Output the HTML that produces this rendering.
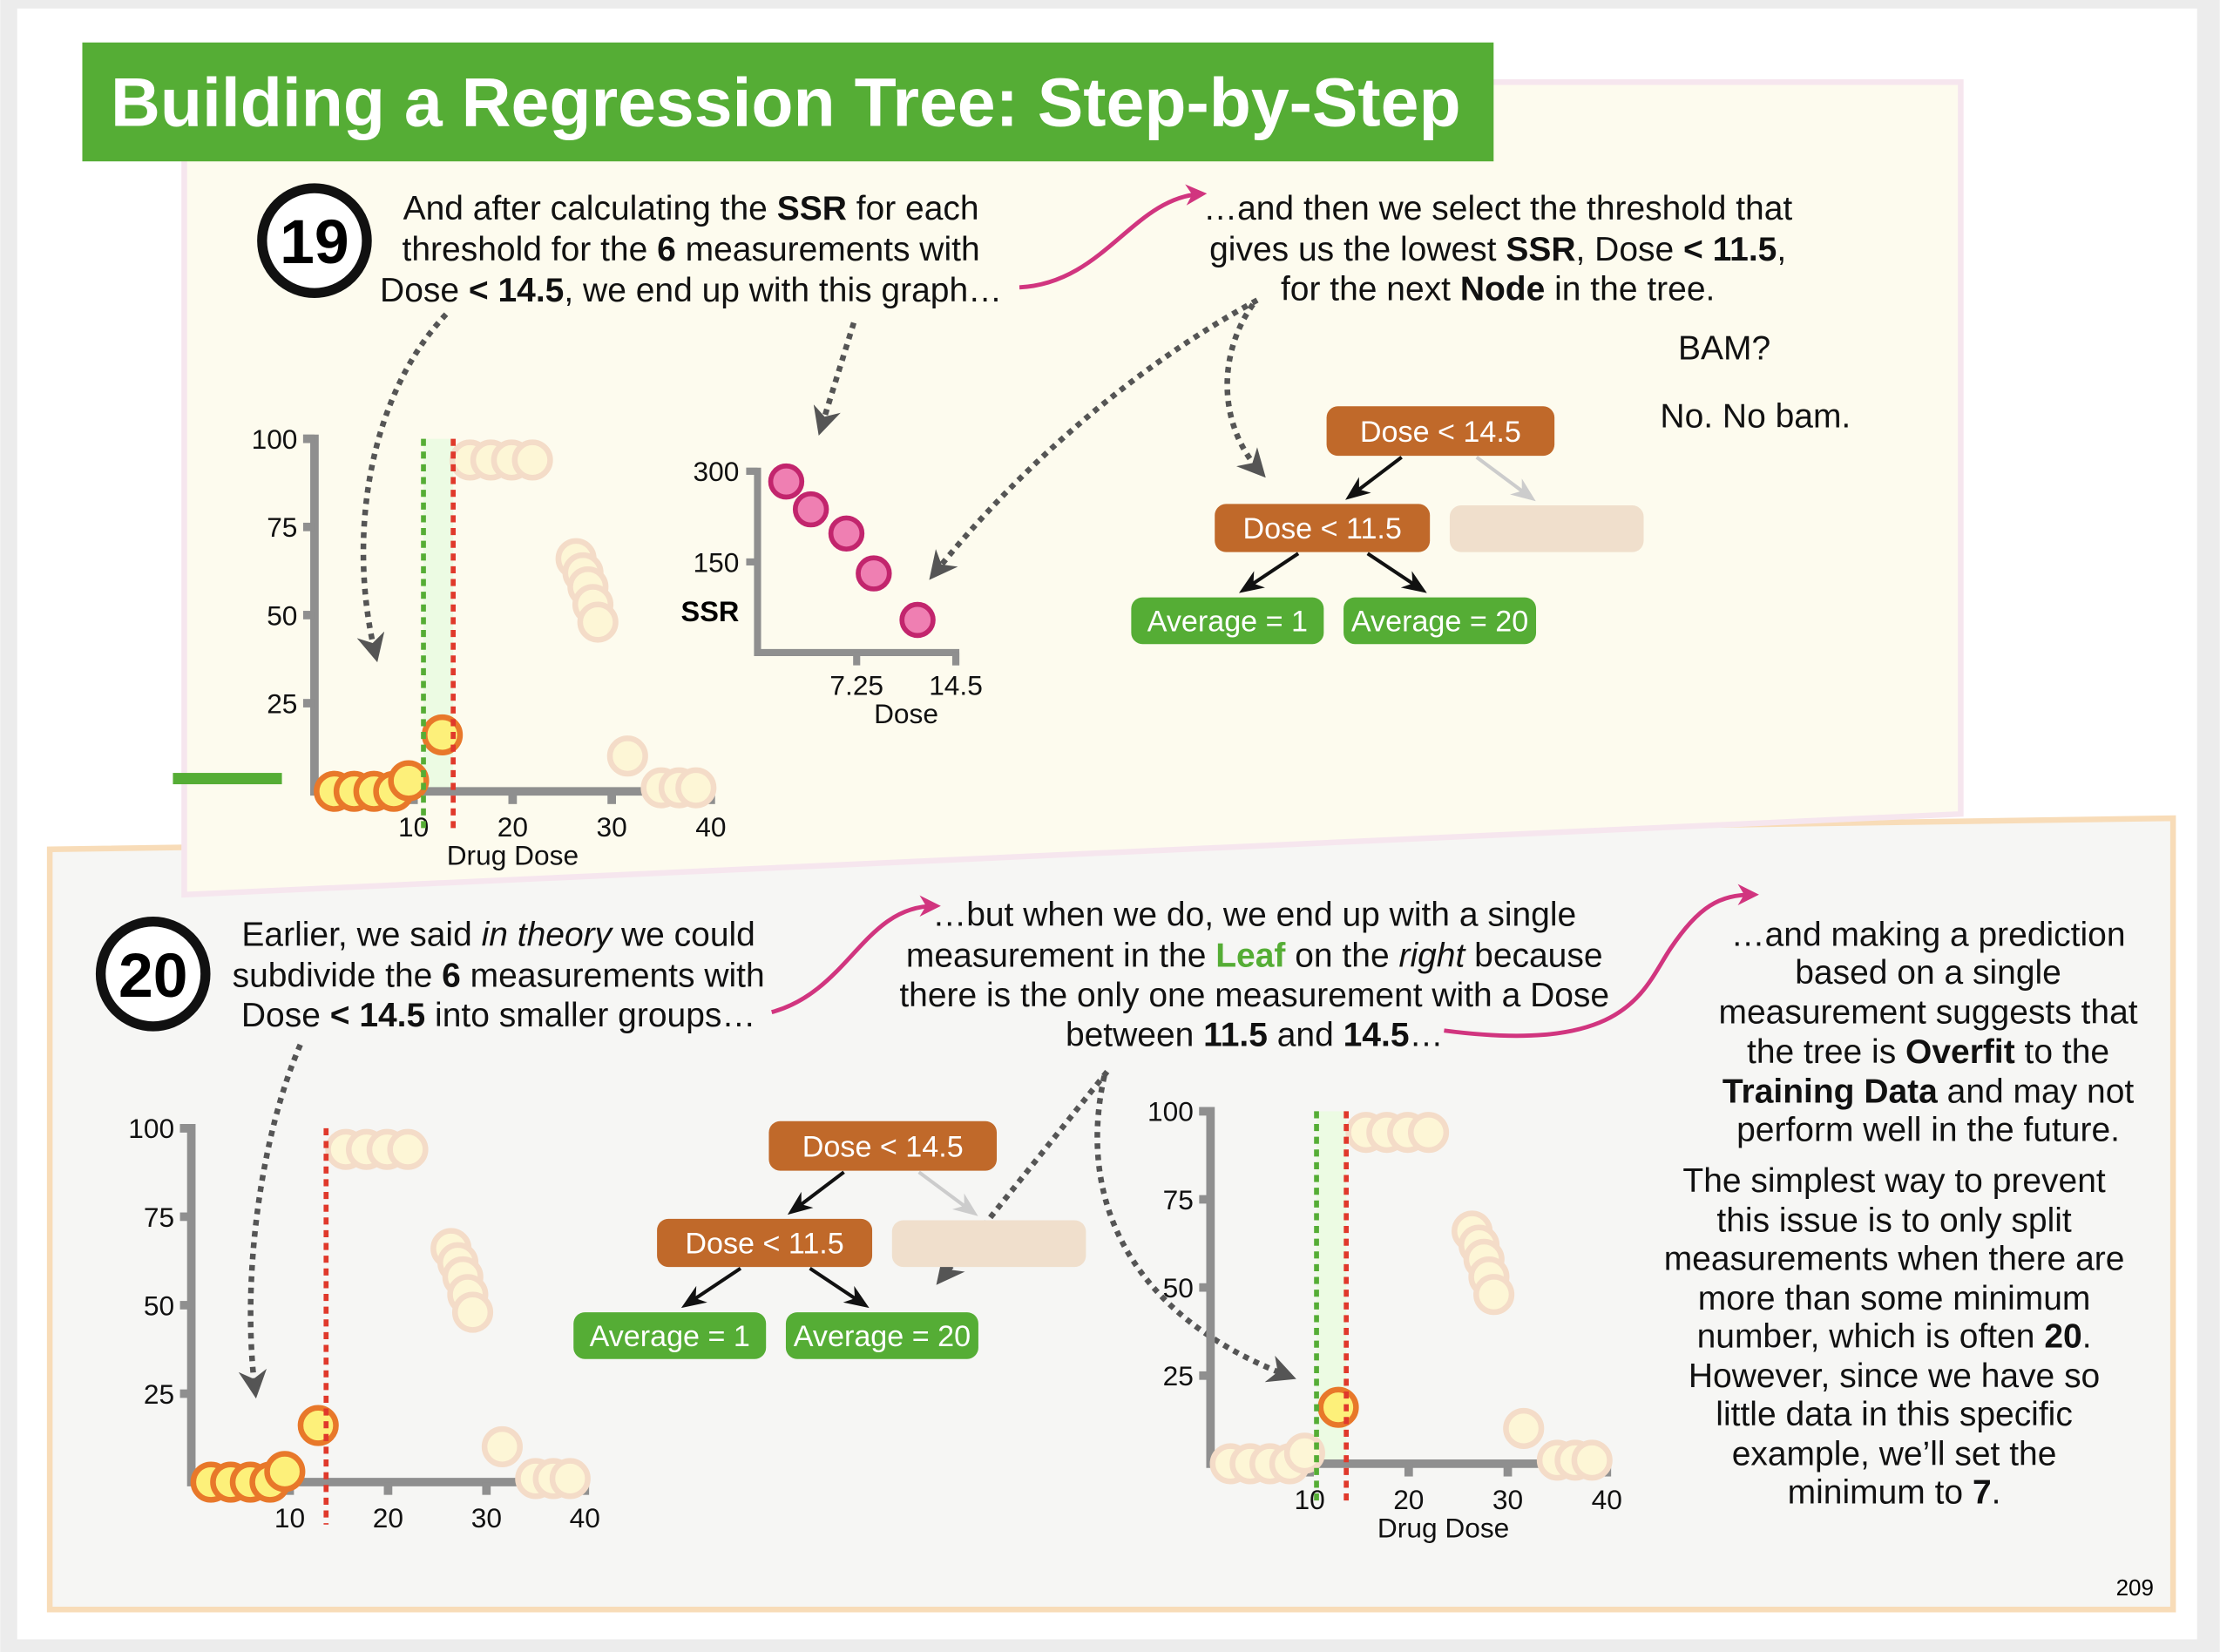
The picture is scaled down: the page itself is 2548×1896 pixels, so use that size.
<!DOCTYPE html>
<html><head><meta charset="utf-8">
<style>
html,body{margin:0;padding:0;background:#fff;}
svg{display:block;font-family:"Liberation Sans",sans-serif;}
.t{font-size:24px;fill:#111;text-anchor:middle}
.ax{font-size:19.5px;fill:#111}
.node{font-size:21px;fill:#fff;text-anchor:middle}
</style></head>
<body>
<svg id="root" width="2548" height="1896" viewBox="0 0 1568 1167">
<defs>
<marker id="ga" viewBox="0 0 10 10" refX="7" refY="5" markerWidth="5" markerHeight="5" orient="auto"><path d="M0,0 L10,5 L0,10 L3,5 z" fill="#555"/></marker>
<marker id="pa" viewBox="0 0 10 10" refX="7" refY="5" markerWidth="5" markerHeight="5" orient="auto"><path d="M0,0 L10,5 L0,10 L3,5 z" fill="#d1357f"/></marker>
<marker id="ka" viewBox="0 0 10 10" refX="8" refY="5" markerWidth="7" markerHeight="7" orient="auto"><path d="M0,1 L10,5 L0,9 L3,5 z" fill="#111"/></marker>
<marker id="la" viewBox="0 0 10 10" refX="8" refY="5" markerWidth="7" markerHeight="7" orient="auto"><path d="M0,1 L10,5 L0,9 L3,5 z" fill="#ccc"/></marker>
</defs>
<rect x="0" y="0" width="1568" height="1167" fill="#ececec"/>
<rect x="12" y="6" width="1540" height="1152" fill="#ffffff"/>
<polygon points="35,600 1535,578 1535,1137 35,1137" fill="#f6f6f4" stroke="#f8dcb8" stroke-width="4"/>
<polygon points="130,58 1385,58 1385,575 130,632" fill="#fdfbee" stroke="#f6e6ee" stroke-width="4"/>
<rect x="58" y="30" width="997" height="84" fill="#55ad35"/>
<text x="78" y="89" font-size="48.5" font-weight="bold" fill="#fff">Building a Regression Tree: Step-by-Step</text>

<circle cx="222" cy="170" r="37" fill="#fff" stroke="#111" stroke-width="7"/>
<text x="222" y="186" font-size="44" font-weight="bold" text-anchor="middle">19</text>
<circle cx="108" cy="688" r="37" fill="#fff" stroke="#111" stroke-width="7"/>
<text x="108" y="704" font-size="44" font-weight="bold" text-anchor="middle">20</text>

<g>
<text class="t" x="488" y="155">And after calculating the <tspan font-weight="bold">SSR</tspan> for each</text>
<text class="t" x="488" y="184">threshold for the <tspan font-weight="bold">6</tspan> measurements with</text>
<text class="t" x="488" y="213">Dose <tspan font-weight="bold">&lt; 14.5</tspan>, we end up with this graph…</text>
</g>
<g>
<text class="t" x="1058" y="155">…and then we select the threshold that</text>
<text class="t" x="1058" y="184">gives us the lowest <tspan font-weight="bold">SSR</tspan>, Dose <tspan font-weight="bold">&lt; 11.5</tspan>,</text>
<text class="t" x="1058" y="212">for the next <tspan font-weight="bold">Node</tspan> in the tree.</text>
</g>
<text class="t" x="1218" y="254">BAM?</text>
<text class="t" x="1240" y="302">No. No bam.</text>

<g>
<text class="t" x="352" y="668">Earlier, we said <tspan font-style="italic">in theory</tspan> we could</text>
<text class="t" x="352" y="697">subdivide the <tspan font-weight="bold">6</tspan> measurements with</text>
<text class="t" x="352" y="725">Dose <tspan font-weight="bold">&lt; 14.5</tspan> into smaller groups…</text>
</g>
<g>
<text class="t" x="886" y="654">…but when we do, we end up with a single</text>
<text class="t" x="886" y="683">measurement in the <tspan font-weight="bold" fill="#55ad35">Leaf</tspan> on the <tspan font-style="italic">right</tspan> because</text>
<text class="t" x="886" y="711">there is the only one measurement with a Dose</text>
<text class="t" x="886" y="739">between <tspan font-weight="bold">11.5</tspan> and <tspan font-weight="bold">14.5</tspan>…</text>
</g>
<g>
<text class="t" x="1362" y="668">…and making a prediction</text>
<text class="t" x="1362" y="695">based on a single</text>
<text class="t" x="1362" y="723">measurement suggests that</text>
<text class="t" x="1362" y="751">the tree is <tspan font-weight="bold">Overfit</tspan> to the</text>
<text class="t" x="1362" y="779"><tspan font-weight="bold">Training Data</tspan> and may not</text>
<text class="t" x="1362" y="806">perform well in the future.</text>
</g>
<g>
<text class="t" x="1338" y="842">The simplest way to prevent</text>
<text class="t" x="1338" y="870">this issue is to only split</text>
<text class="t" x="1338" y="897">measurements when there are</text>
<text class="t" x="1338" y="925">more than some minimum</text>
<text class="t" x="1338" y="952">number, which is often <tspan font-weight="bold">20</tspan>.</text>
<text class="t" x="1338" y="980">However, since we have so</text>
<text class="t" x="1338" y="1007">little data in this specific</text>
<text class="t" x="1338" y="1035">example, we’ll set the</text>
<text class="t" x="1338" y="1062">minimum to <tspan font-weight="bold">7</tspan>.</text>
</g>
<text x="1508" y="1127" font-size="16" text-anchor="middle">209</text>

<g fill="none" stroke-width="3">
<path d="M720,203 C780,200 800,140 848,137" stroke="#d1357f" marker-end="url(#pa)"/>
<path d="M545,715 C600,700 610,640 660,640" stroke="#d1357f" marker-end="url(#pa)"/>
<path d="M1020,728 C1150,745 1160,700 1180,670 C1200,640 1215,632 1238,632" stroke="#d1357f" marker-end="url(#pa)"/>
</g>
<g fill="none" stroke="#555" stroke-width="4" stroke-dasharray="4,4">
<path d="M315,222 C260,280 245,380 265,462" marker-end="url(#ga)"/>
<path d="M603,228 L580,302" marker-end="url(#ga)"/>
<path d="M888,212 C800,260 720,330 660,405" marker-end="url(#ga)"/>
<path d="M885,215 C860,250 860,300 890,333" marker-end="url(#ga)"/>
<path d="M212,738 C185,800 170,900 180,982" marker-end="url(#ga)"/>
<path d="M782,757 L665,903" marker-end="url(#ga)"/>
<path d="M780,760 C760,850 800,930 910,972" marker-end="url(#ga)"/>
</g>

<g id="plots"></g>
<g id="trees"></g>
</svg>
<script>
var doses=[2,4,6,8,9.5,12.9,15.7,17.8,19.9,22,26.4,27.1,27.6,28.1,28.6,31.6,35,36.8,38.5];
var effects=[0,0,0,0,3,16,94,94,94,94,66,62,58,53,48,10,1,1,1];
var xTicks=[10,20,30,40];
var yTicks=[25,50,75,100];
var ssrThresholds=[2.1,3.9,6.5,8.5,11.7];
var ssrValues=[283,237,197,131,54];
var ssrYTicks=[150,300];
var ssrXTicks=[7.25,14.5];
var NS='http://www.w3.org/2000/svg';
function mk(tag,attrs,parent){var e=document.createElementNS(NS,tag);for(var k in attrs)e.setAttribute(k,attrs[k]);parent.appendChild(e);return e;}
var plots=document.getElementById('plots');

function scatter(o){
  var g=mk('g',{},plots);
  
  
  function X(v){return o.x0+o.sx*v;}
  function Y(v){return o.y0-o.sy*v;}
  if(o.band){var b=mk('rect',{x:X(o.band[0]),y:Y(100),width:X(o.band[1])-X(o.band[0]),height:Y(0)-Y(100),fill:'#ecfbe3'},g);
    
    }
  var ax=mk('path',{d:'M'+(o.x0-8)+','+Y(100)+' H'+o.x0+' V'+Y(0)+' H'+X(40),fill:'none',stroke:'#8f8f8f','stroke-width':6},g);
  
  
  yTicks.forEach(function(t){
    mk('line',{x1:o.x0-8,x2:o.x0,y1:Y(t),y2:Y(t),stroke:'#8f8f8f','stroke-width':6},g);
    var tx=mk('text',{x:o.x0-12,y:Y(t)+7,'text-anchor':'end','class':'ax'},g);tx.textContent=t;
    
    
  });
  xTicks.forEach(function(t){
    mk('line',{x1:X(t),x2:X(t),y1:Y(0),y2:Y(0)+9,stroke:'#8f8f8f','stroke-width':6},g);
    var tx=mk('text',{x:X(t),y:Y(0)+32,'text-anchor':'middle','class':'ax'},g);tx.textContent=t;
    
    
  });
  if(o.xlabel){var xl=mk('text',{x:X(o.xlabel),y:Y(0)+52,'text-anchor':'middle','class':'ax'},g);xl.textContent='Drug Dose';
    
    }
  var faded=[],hi=[];
  doses.forEach(function(d,i){(o.hi(d)?hi:faded).push(i);});
  faded.concat(hi).forEach(function(i){
    var h=o.hi(doses[i]);
    var c=mk('circle',{cx:X(doses[i]),cy:Y(effects[i]),r:12.5,fill:h?'#fdf07a':'#fdf6d6',stroke:h?'#e8782a':'#f4dcc8','stroke-width':4},g);
    
    
  });
  if(o.green!==undefined){var gl=mk('line',{x1:X(o.green),x2:X(o.green),y1:Y(100),y2:Y(0)+30,stroke:'#55ad35','stroke-width':3.5,'stroke-dasharray':'5,4'},g);
    
    }
  var rl=mk('line',{x1:X(o.red),x2:X(o.red),y1:Y(100),y2:Y(0)+30,stroke:'#e0392b','stroke-width':3.5,'stroke-dasharray':'5,4'},g);
  
  
}
scatter({name:'plot-step19',x0:222,sx:7,y0:559,sy:2.49,band:[11,14],green:11,red:14,xlabel:20,hi:function(d){return d<14.5;}});
scatter({name:'plot-step20-left',x0:135,sx:6.95,y0:1047,sy:2.5,red:13.7,xlabel:0,hi:function(d){return d<14.5;}});
scatter({name:'plot-step20-right',x0:855,sx:7,y0:1034,sy:2.49,band:[10.7,13.7],green:10.7,red:13.7,xlabel:23.5,hi:function(d){return d>11.5&&d<14.5;}});
var gm=mk('rect',{x:122,y:546,width:77,height:8,fill:'#55ad35'},plots);



(function(){
  var g=mk('g',{},plots);
  
  
  function X(v){return 535+9.66*v;}
  function Y(v){return 461-0.427*v;}
  mk('path',{d:'M527,'+Y(300)+' H535 V'+Y(0)+' H'+X(14.5)+' V'+(Y(0)+9),fill:'none',stroke:'#8f8f8f','stroke-width':5},g);
  ssrYTicks.forEach(function(t){
    mk('line',{x1:527,x2:535,y1:Y(t),y2:Y(t),stroke:'#8f8f8f','stroke-width':5},g);
    var tx=mk('text',{x:522,y:Y(t)+7,'text-anchor':'end','class':'ax'},g);tx.textContent=t;
    
    
  });
  ssrXTicks.forEach(function(t){
    mk('line',{x1:X(t),x2:X(t),y1:Y(0),y2:Y(0)+9,stroke:'#8f8f8f','stroke-width':5},g);
    var tx=mk('text',{x:X(t),y:Y(0)+30,'text-anchor':'middle','class':'ax'},g);tx.textContent=t;
    
    
  });
  var yl=mk('text',{x:522,y:439,'text-anchor':'end','font-size':20,'font-weight':'bold'},g);yl.textContent='SSR';
  
  
  var xl=mk('text',{x:640,y:511,'text-anchor':'middle','class':'ax'},g);xl.textContent='Dose';
  
  
  ssrThresholds.forEach(function(d,i){
    var c=mk('circle',{cx:X(d),cy:Y(ssrValues[i]),r:11,fill:'#ef7fb2',stroke:'#c2256d','stroke-width':3.5},g);
    
    
  });
})();

var trees=document.getElementById('trees');
function tree(dx,dy,name){
  var g=mk('g',{transform:'translate('+dx+','+dy+')'},trees);
  
  
  function box(x,y,w,h,fill,label,nm){
    var r=mk('rect',{x:x,y:y,width:w,height:h,rx:8,fill:fill},g);
    
    
    if(label){var t=mk('text',{x:x+w/2,y:y+h/2+7.5,'class':'node'},g);t.textContent=label;}
  }
  box(937,287,161,35,'#c0692a','Dose < 14.5','root-node');
  box(858,356,152,34,'#c0692a','Dose < 11.5','split-node');
  box(1024,357,137,33,'#f0dfcc','','empty-node');
  box(799,422,136,33,'#55ad35','Average = 1','leaf-average-1');
  box(949,422,136,33,'#55ad35','Average = 20','leaf-average-20');
  mk('line',{x1:990,y1:323,x2:953,y2:351,stroke:'#111','stroke-width':2.5,'marker-end':'url(#ka)'},g);
  mk('line',{x1:1043,y1:323,x2:1082,y2:352,stroke:'#ccc','stroke-width':2.5,'marker-end':'url(#la)'},g);
  mk('line',{x1:917,y1:391,x2:878,y2:417,stroke:'#111','stroke-width':2.5,'marker-end':'url(#ka)'},g);
  mk('line',{x1:966,y1:391,x2:1005,y2:417,stroke:'#111','stroke-width':2.5,'marker-end':'url(#ka)'},g);
}
tree(0,0,'tree-step19');
tree(-394,505,'tree-step20');
</script>
</body></html>
